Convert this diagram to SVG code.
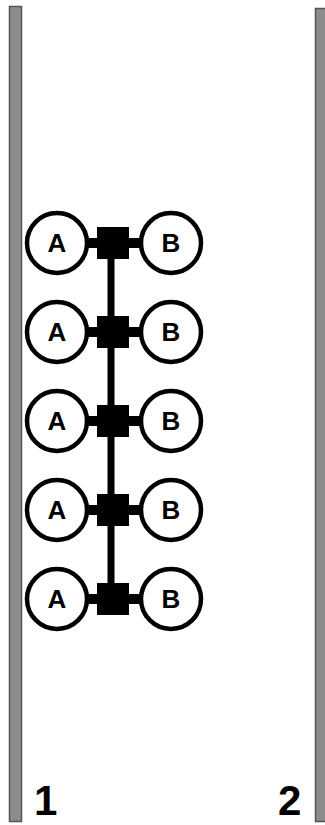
<svg xmlns="http://www.w3.org/2000/svg" width="325" height="825" viewBox="0 0 325 825">
<style>
.bar{fill:#8c8c8c;stroke:#555;stroke-width:1.5}
.c{fill:#fff;stroke:#000;stroke-width:4.5}
.t{font-family:"Liberation Sans",Arial,sans-serif;font-weight:bold;font-size:26px;text-anchor:middle;fill:#000}
.n{font-family:"Liberation Sans",Arial,sans-serif;font-weight:bold;font-size:42px;fill:#000}
.h{stroke:#000;stroke-width:10}
</style>
<rect class="bar" x="9.5" y="6.5" width="12" height="815"/>
<rect class="bar" x="315.5" y="8.5" width="12" height="813"/>
<text class="n" x="34" y="815">1</text>
<text class="n" x="278" y="815">2</text>
<g id="connectors">
<line x1="111" y1="243" x2="111" y2="599" stroke="#000" stroke-width="7"/>
<line class="h" x1="88" y1="243" x2="140" y2="243"/>
<line class="h" x1="88" y1="332" x2="140" y2="332"/>
<line class="h" x1="88" y1="421" x2="140" y2="421"/>
<line class="h" x1="88" y1="510" x2="140" y2="510"/>
<line class="h" x1="88" y1="599" x2="140" y2="599"/>
</g>
<g id="row1"><circle class="c" cx="57" cy="243" r="30"/><text class="t" x="57" y="252">A</text><rect x="97" y="227" width="32" height="32"/><circle class="c" cx="171" cy="243" r="30"/><text class="t" x="171" y="252">B</text></g>
<g id="row2"><circle class="c" cx="57" cy="332" r="30"/><text class="t" x="57" y="341">A</text><rect x="97" y="316" width="32" height="32"/><circle class="c" cx="171" cy="332" r="30"/><text class="t" x="171" y="341">B</text></g>
<g id="row3"><circle class="c" cx="57" cy="421" r="30"/><text class="t" x="57" y="430">A</text><rect x="97" y="405" width="32" height="32"/><circle class="c" cx="171" cy="421" r="30"/><text class="t" x="171" y="430">B</text></g>
<g id="row4"><circle class="c" cx="57" cy="510" r="30"/><text class="t" x="57" y="519">A</text><rect x="97" y="494" width="32" height="32"/><circle class="c" cx="171" cy="510" r="30"/><text class="t" x="171" y="519">B</text></g>
<g id="row5"><circle class="c" cx="57" cy="599" r="30"/><text class="t" x="57" y="608">A</text><rect x="97" y="583" width="32" height="32"/><circle class="c" cx="171" cy="599" r="30"/><text class="t" x="171" y="608">B</text></g>
</svg>
